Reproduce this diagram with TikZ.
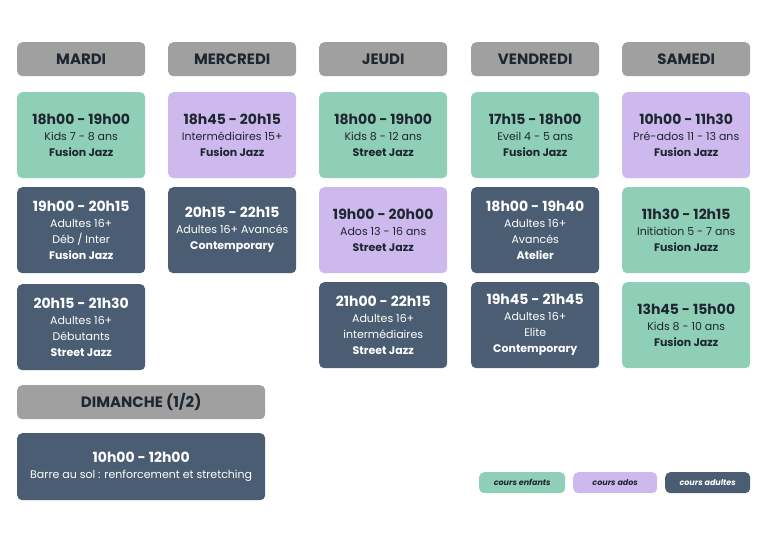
\documentclass[tikz,border=0pt]{standalone}
\usepackage{fontspec}
\setmainfont{Poppins}
\begin{document}
\definecolor{cg}{HTML}{8FCFB7}
\definecolor{cp}{HTML}{CDB9EE}
\definecolor{cd}{HTML}{4A5D73}
\definecolor{ch}{HTML}{A0A0A0}
\definecolor{ct}{HTML}{1E2630}
\begin{tikzpicture}[x=1pt,y=-1pt,
  base/.style={anchor=north west,rounded corners=5pt,align=center,inner sep=0pt},
  hd/.style={base,fill=ch,minimum width=128pt,minimum height=34pt,text=ct,font=\fontsize{15}{18}\selectfont\bfseries},
  bx/.style={base,minimum width=128pt,minimum height=86pt,font=\fontsize{11}{16}\selectfont},
  g/.style={bx,fill=cg,text=ct},
  p/.style={bx,fill=cp,text=ct},
  d/.style={bx,fill=cd,text=white},
  lg/.style={base,minimum width=86pt,minimum height=21pt,font=\fontsize{8}{10}\selectfont\bfseries\itshape}]
\newcommand\tmt[1]{{\fontsize{14}{18}\selectfont\bfseries #1}}
\useasboundingbox (0,0) rectangle (768,543);
\node[hd] (h1) at (17,42) {MARDI};
\node[hd] (h2) at (168,42) {MERCREDI};
\node[hd] (h3) at (319,42) {JEUDI};
\node[hd] (h4) at (471,42) {VENDREDI};
\node[hd] (h5) at (622,42) {SAMEDI};
\node[g] (a1) at (17,92) {\tmt{18h00 - 19h00}\\Kids 7 - 8 ans\\\textbf{Fusion Jazz}};
\node[d] (a2) at (17,187) {\tmt{19h00 - 20h15}\\Adultes 16+\\Déb / Inter\\\textbf{Fusion Jazz}};
\node[d] (a3) at (17,284) {\tmt{20h15 - 21h30}\\Adultes 16+\\Débutants\\\textbf{Street Jazz}};
\node[p] (b1) at (168,92) {\tmt{18h45 - 20h15}\\Intermédiaires 15+\\\textbf{Fusion Jazz}};
\node[d] (b2) at (168,187) {\tmt{20h15 - 22h15}\\Adultes 16+ Avancés\\\textbf{Contemporary}};
\node[g] (c1) at (319,92) {\tmt{18h00 - 19h00}\\Kids 8 - 12 ans\\\textbf{Street Jazz}};
\node[p] (c2) at (319,187) {\tmt{19h00 - 20h00}\\Ados 13 - 16 ans\\\textbf{Street Jazz}};
\node[d] (c3) at (319,282) {\tmt{21h00 - 22h15}\\Adultes 16+\\intermédiaires\\\textbf{Street Jazz}};
\node[g] (e1) at (471,92) {\tmt{17h15 - 18h00}\\Eveil 4 - 5 ans\\\textbf{Fusion Jazz}};
\node[d] (e2) at (471,187) {\tmt{18h00 - 19h40}\\Adultes 16+\\Avancés\\\textbf{Atelier}};
\node[d] (e3) at (471,282) {\tmt{19h45 - 21h45}\\Adultes 16+\\Elite\\\textbf{Contemporary}};
\node[p] (f1) at (622,92) {\tmt{10h00 - 11h30}\\Pré-ados 11 - 13 ans\\\textbf{Fusion Jazz}};
\node[g] (f2) at (622,187) {\tmt{11h30 - 12h15}\\Initiation 5 - 7 ans\\\textbf{Fusion Jazz}};
\node[g] (f3) at (622,282) {\tmt{13h45 - 15h00}\\Kids 8 - 10 ans\\\textbf{Fusion Jazz}};
\node[hd,minimum width=248pt] (h6) at (17,385) {DIMANCHE (1/2)};
\node[d,minimum width=248pt,minimum height=67pt] (s1) at (17,433) {\tmt{10h00 - 12h00}\\Barre au sol : renforcement et stretching};
\node[lg,fill=cg,text=ct] (l1) at (479,472) {cours enfants};
\node[lg,fill=cp,text=ct,minimum width=84pt] (l2) at (573,472) {cours ados};
\node[lg,fill=cd,text=white,minimum width=85pt] (l3) at (665,472) {cours adultes};
\end{tikzpicture}
\end{document}
